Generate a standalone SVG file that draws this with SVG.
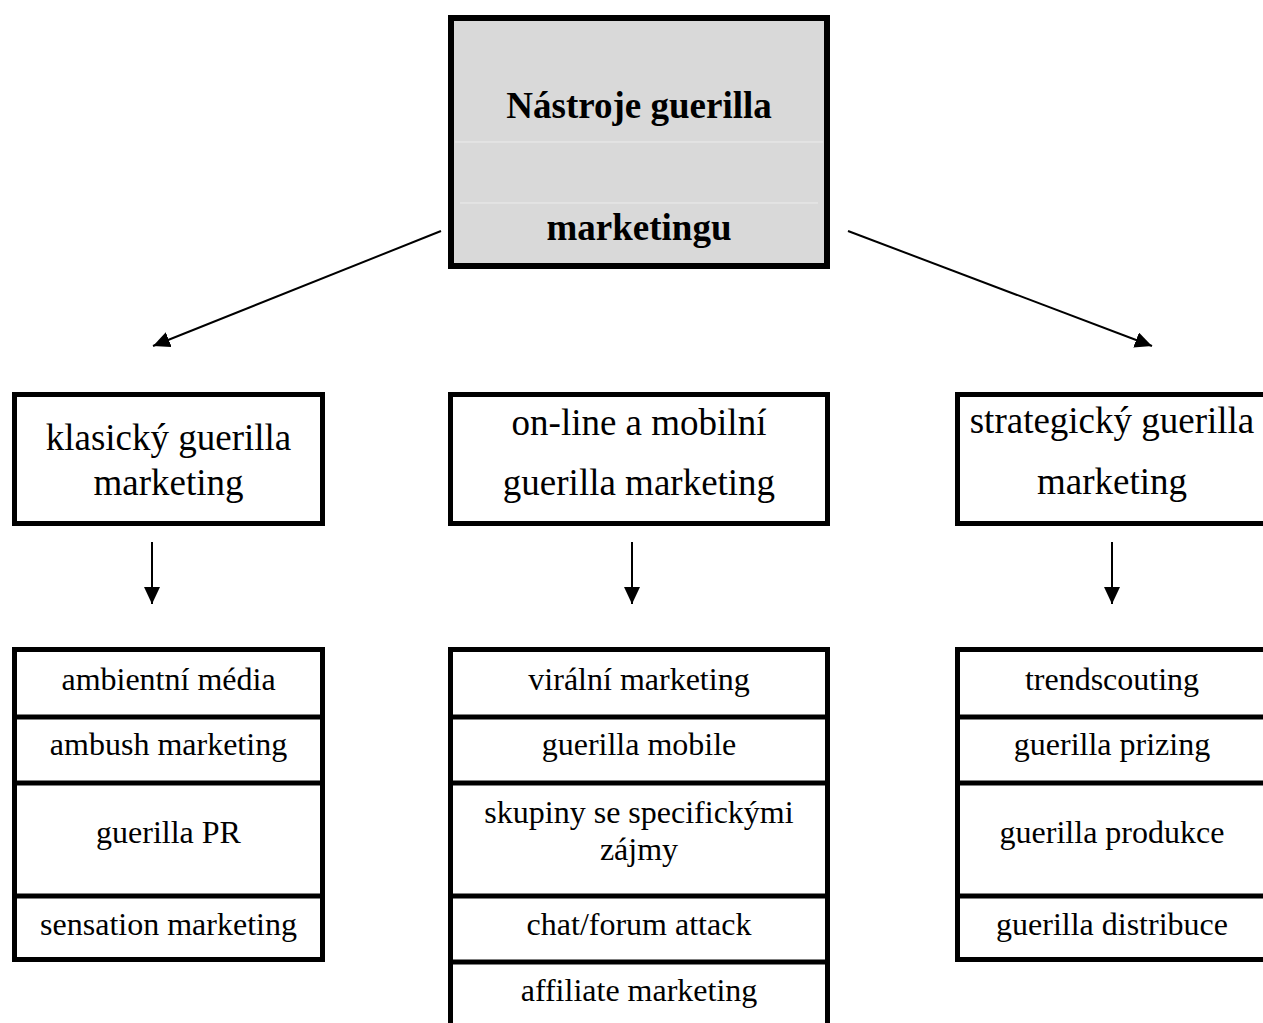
<svg xmlns="http://www.w3.org/2000/svg" width="1263" height="1023" viewBox="0 0 1263 1023">
<style>
.box{fill:#fff;stroke:#000;stroke-width:5}
.sep{stroke:#000;stroke-width:5}
.t{font-family:"Liberation Serif","Times New Roman",serif;fill:#000;text-anchor:middle}
.l2{font-size:37px}
.li{font-size:32px}
.hd{font-size:37px;font-weight:bold}
.con{stroke:#000;stroke-width:2;fill:none}
</style>
<defs>
<marker id="ah" markerUnits="userSpaceOnUse" markerWidth="17" markerHeight="16" refX="17" refY="8" orient="auto">
<path d="M0,0 L17,8 L0,16 z" fill="#000"/>
</marker>
</defs>
<rect width="1263" height="1023" fill="#fff"/>
<g id="root">
<rect x="451" y="18" width="376" height="248" fill="#d9d9d9" stroke="#000" stroke-width="6"/>
<line x1="455" y1="142" x2="823" y2="142" stroke="#ececec" stroke-width="1"/>
<line x1="460" y1="203" x2="818" y2="203" stroke="#ececec" stroke-width="1"/>
<text class="t hd" x="639" y="118">Nástroje guerilla</text>
<text class="t hd" x="639" y="240">marketingu</text>
</g>
<g id="connectors">
<line class="con" x1="441" y1="231" x2="153" y2="346" marker-end="url(#ah)"/>
<line class="con" x1="848" y1="231" x2="1152" y2="346" marker-end="url(#ah)"/>
<line class="con" x1="152" y1="542" x2="152" y2="604" marker-end="url(#ah)"/>
<line class="con" x1="632" y1="542" x2="632" y2="604" marker-end="url(#ah)"/>
<line class="con" x1="1112" y1="542" x2="1112" y2="604" marker-end="url(#ah)"/>
</g>
<g id="klasicky">
<rect class="box" x="14.5" y="394.5" width="308" height="129"/>
<text class="t l2" x="168.5" y="450">klasický guerilla</text>
<text class="t l2" x="168.5" y="495">marketing</text>
</g>
<g id="online">
<rect class="box" x="450.5" y="394.5" width="377" height="129"/>
<text class="t l2" x="639" y="435">on-line a mobilní</text>
<text class="t l2" x="639" y="495">guerilla marketing</text>
</g>
<g id="strategicky">
<rect class="box" x="957.5" y="394.5" width="313" height="129"/>
<text class="t l2" x="1112" y="433">strategický guerilla</text>
<text class="t l2" x="1112" y="494">marketing</text>
</g>
<g id="list-klasicky">
<rect class="box" x="14.5" y="649.5" width="308" height="310"/>
<line class="sep" x1="12" y1="717" x2="325" y2="717"/>
<line class="sep" x1="12" y1="783" x2="325" y2="783"/>
<line class="sep" x1="12" y1="896" x2="325" y2="896"/>
<text class="t li" x="168.5" y="690">ambientní média</text>
<text class="t li" x="168.5" y="755">ambush marketing</text>
<text class="t li" x="168.5" y="843">guerilla PR</text>
<text class="t li" x="168.5" y="935">sensation marketing</text>
</g>
<g id="list-online">
<rect class="box" x="450.5" y="649.5" width="377" height="420"/>
<line class="sep" x1="448" y1="717" x2="830" y2="717"/>
<line class="sep" x1="448" y1="783" x2="830" y2="783"/>
<line class="sep" x1="448" y1="896" x2="830" y2="896"/>
<line class="sep" x1="448" y1="962" x2="830" y2="962"/>
<text class="t li" x="639" y="690">virální marketing</text>
<text class="t li" x="639" y="755">guerilla mobile</text>
<text class="t li" x="639" y="823">skupiny se specifickými</text>
<text class="t li" x="639" y="860">zájmy</text>
<text class="t li" x="639" y="935">chat/forum attack</text>
<text class="t li" x="639" y="1001">affiliate marketing</text>
</g>
<g id="list-strategicky">
<rect class="box" x="957.5" y="649.5" width="313" height="310"/>
<line class="sep" x1="955" y1="717" x2="1270" y2="717"/>
<line class="sep" x1="955" y1="783" x2="1270" y2="783"/>
<line class="sep" x1="955" y1="896" x2="1270" y2="896"/>
<text class="t li" x="1112" y="690">trendscouting</text>
<text class="t li" x="1112" y="755">guerilla prizing</text>
<text class="t li" x="1112" y="843">guerilla produkce</text>
<text class="t li" x="1112" y="935">guerilla distribuce</text>
</g>
</svg>
